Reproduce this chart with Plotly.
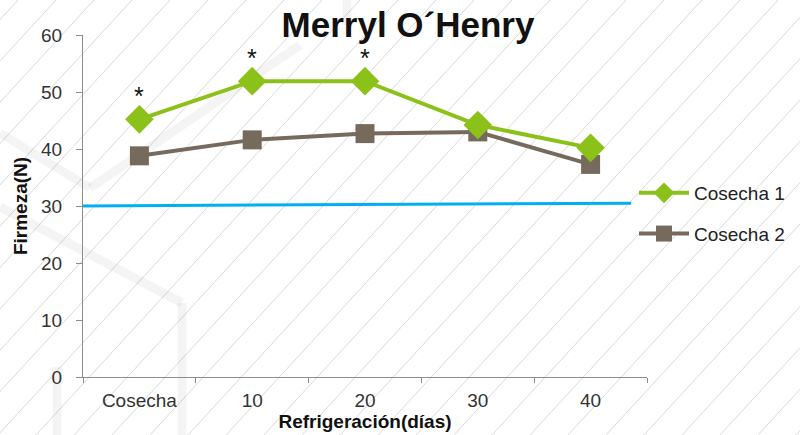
import plotly.graph_objects as go

categories = ["Cosecha", "10", "20", "30", "40"]
cosecha1 = [45.2, 51.9, 51.9, 44.2, 40.2]
cosecha2 = [38.8, 41.6, 42.7, 43.0, 37.3]
threshold_x = [-0.5, 4.36]
threshold_y = [30.0, 30.5]
star_idx = [0, 1, 2]
yticks = [0, 10, 20, 30, 40, 50, 60]

W, H = 800, 435
L, R, T, B = 83, 153, 35, 58
pw, ph = W - L - R, H - T - B

def px2paper(px, py):
    return (px - L) / pw, (H - B - py) / ph

shapes = []
# decorative diagonal stripes in background
x0 = -420
while x0 < W + 40:
    ax, ay = px2paper(x0, H)
    bx, by = px2paper(x0 + 400, 0)
    shapes.append(dict(type="line", xref="paper", yref="paper", x0=ax, y0=ay, x1=bx, y1=by,
                       line=dict(color="#d9d9d9", width=1), layer="below"))
    x0 += 38

# soft decorative shadow edges of the background artwork
shadow_paths = [
    [(0, 133), (90, 188), (300, 45)],
    [(0, 207), (182, 303), (182, 435)],
    [(57, 367), (57, 435)],
    [(347, 0), (347, 25)],
]
for pts in shadow_paths:
    for (p0, p1) in zip(pts[:-1], pts[1:]):
        ax, ay = px2paper(*p0)
        bx, by = px2paper(*p1)
        shapes.append(dict(type="line", xref="paper", yref="paper", x0=ax, y0=ay, x1=bx, y1=by,
                           line=dict(color="rgba(0,0,0,0.045)", width=9), layer="below"))

xs = list(range(len(categories)))
fig = go.Figure()
fig.add_trace(go.Scatter(x=threshold_x, y=threshold_y, mode="lines",
                         line=dict(color="#00B0F0", width=3), showlegend=False, hoverinfo="skip"))
fig.add_trace(go.Scatter(x=xs, y=cosecha2, mode="lines+markers", name="Cosecha 2",
                         line=dict(color="#766A5C", width=4), legendrank=2,
                         marker=dict(symbol="square", size=19, color="#766A5C"), legendgroup="b"))
fig.add_trace(go.Scatter(x=xs, y=cosecha1, mode="lines+markers", name="Cosecha 1",
                         line=dict(color="#8CC11A", width=4), legendrank=1,
                         marker=dict(symbol="diamond", size=22, color="#8CC11A"), legendgroup="a"))

annotations = []
for i in star_idx:
    annotations.append(dict(x=xs[i], y=cosecha1[i], xref="x", yref="y", text="*", showarrow=False,
                            yshift=23, font=dict(size=25, color="#111", family="Liberation Sans")))

fig.update_layout(
    width=W, height=H,
    margin=dict(l=L, r=R, t=T, b=B, autoexpand=False),
    paper_bgcolor="white", plot_bgcolor="rgba(0,0,0,0)",
    title=dict(text="<b>Merryl O´Henry</b>", x=408 / W, xanchor="center", y=1 - 25 / H, yanchor="middle",
               font=dict(size=35, color="#111", family="Liberation Sans")),
    font=dict(family="Liberation Sans", color="#333"),
    shapes=shapes,
    annotations=annotations,
    legend=dict(x=(634 - L) / pw, xanchor="left", y=(H - B - 174) / ph, yanchor="top",
                font=dict(size=19, color="#222"), traceorder="grouped", tracegroupgap=13,
                itemwidth=50, bgcolor="rgba(0,0,0,0)"),
    xaxis=dict(range=[-0.5, 4.5], tickmode="array", tickvals=xs, ticktext=categories,
               ticks="", showgrid=False, zeroline=False, showline=True, linecolor="#8c8c8c", linewidth=1,
               tickfont=dict(size=19, color="#333"), ticklabelstandoff=6,
               minor=dict(tickmode="linear", tick0=-0.5, dtick=1, ticks="outside", ticklen=5,
                          tickcolor="#8c8c8c", showgrid=False),
               title=dict(text="<b>Refrigeración(días)</b>", font=dict(size=19, color="#111"), standoff=2)),
    yaxis=dict(range=[0, 60], tickmode="array", tickvals=yticks, ticks="outside", ticklen=6,
               tickcolor="#8c8c8c", showgrid=False, zeroline=False, showline=True, linecolor="#8c8c8c",
               linewidth=1, tickfont=dict(size=19, color="#333"), ticklabelstandoff=10,
               title=dict(text="<b>Firmeza(N)</b>", font=dict(size=19, color="#111"), standoff=8)),
)

fig.write_html("out.html", config={"displayModeBar": False},
               post_script="document.body.style.margin='0';")
